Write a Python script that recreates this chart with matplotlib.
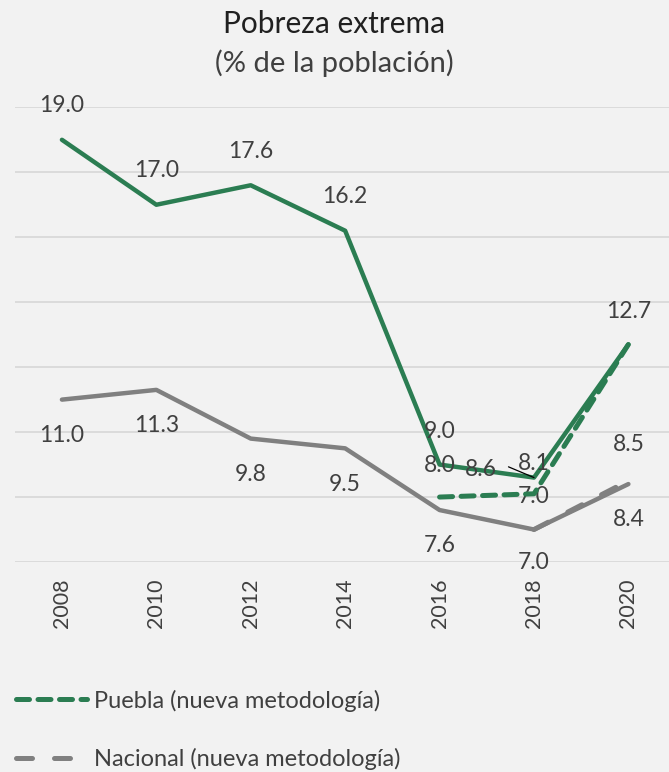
import numpy as np
import matplotlib.pyplot as plt
from matplotlib.lines import Line2D

plt.rcParams['font.family'] = ['Lato', 'DejaVu Sans']

years = ["2008", "2010", "2012", "2014", "2016", "2018", "2020"]
puebla = [19.0, 17.0, 17.6, 16.2, 9.0, 8.6, 12.7]
nacional = [11.0, 11.3, 9.8, 9.5, 7.6, 7.0, 8.4]
puebla_new = [np.nan, np.nan, np.nan, np.nan, 8.0, 8.1, 12.7]
nacional_new = [np.nan, np.nan, np.nan, np.nan, np.nan, 7.0, 8.5]

green = "#2B7D52"
gray = "#808080"
txt = "#404040"
bg = "#F2F2F2"
green_dash = (0, (2.6, 1.7))
gray_dash = (0, (3.2, 4.4))

fig = plt.figure(figsize=(6.69, 7.72), dpi=100, facecolor=bg)
ax = fig.add_axes([0.022, 0.272, 0.978, 0.589], facecolor=bg)
x = np.arange(len(years))

ax.plot(x, puebla, color=green, lw=3.2, solid_capstyle="round", zorder=3)
ax.plot(x, nacional, color=gray, lw=3.2, solid_capstyle="round", zorder=2)
ax.plot(x, puebla_new, color=green, lw=3.6, ls=green_dash, dash_capstyle="round", zorder=4)
ax.plot(x, nacional_new, color=gray, lw=3.6, ls=gray_dash, dash_capstyle="round", zorder=2.5)

ax.set_ylim(6, 20)
ax.set_xlim(-0.5, 6.43)
ax.set_yticks(np.arange(6, 21, 2))
ax.yaxis.grid(True, color="#D9D9D9", lw=1.3)
ax.set_axisbelow(True)
ax.tick_params(axis="y", left=False, labelleft=False)
ax.tick_params(axis="x", length=0, pad=12, labelsize=15.5, labelcolor=txt)
ax.set_xticks(x)
ax.set_xticklabels(years, rotation=90)
for s in ax.spines.values():
    s.set_visible(False)

fs = 16.5

def lab(i, v, text, dx, dy, **kw):
    ax.annotate(text, (x[i], v), xytext=(dx, dy), textcoords="offset points",
                ha="center", va="center", fontsize=fs, color=txt, **kw)

# Puebla
for i in range(0, 4):
    lab(i, puebla[i], f"{puebla[i]:.1f}", 0, 24.5)
lab(4, puebla[4], "9.0", 0, 24)
lab(5, puebla[5], "8.6", -38, 6)
lab(6, puebla[6], "12.7", 0, 24)
# Puebla nueva
lab(4, puebla_new[4], "8.0", 0, 23)
ax.annotate("8.1", (x[5], puebla[5]), xytext=(0, 10), textcoords="offset points",
            ha="center", va="center", fontsize=fs, color=txt,
            arrowprops=dict(arrowstyle="-", color="black", lw=0.9, shrinkA=0, shrinkB=0,
                            relpos=(-0.3, 0.35)))
# Nacional
for i in range(0, 4):
    lab(i, nacional[i], f"{nacional[i]:.1f}", 0, -26)
lab(4, nacional[4], "7.6", 0, -25.5)
lab(5, nacional[5], "7.0", 0, -24)
lab(6, nacional[6], "8.4", 0, -25.5)
# Nacional nueva
lab(5, nacional_new[5], "7.0", 0, 24)
lab(6, nacional_new[6], "8.5", 0, 26)

fig.text(0.5, 0.969, "Pobreza extrema", ha="center", va="center", fontsize=21.5, color="#202020")
fig.text(0.5, 0.918, "(% de la población)", ha="center", va="center", fontsize=21, color=txt)

handles = [Line2D([], [], color=green, lw=3.6, ls=green_dash, dash_capstyle="round"),
           Line2D([], [], color=gray, lw=3.6, ls=gray_dash, dash_capstyle="round")]
fig.legend(handles, ["Puebla (nueva metodología)", "Nacional (nueva metodología)"],
           loc="upper left", bbox_to_anchor=(0.01, 0.119), frameon=False,
           fontsize=17, labelcolor=txt, handlelength=3.0, handletextpad=0.3,
           labelspacing=1.55, borderaxespad=0)

fig.savefig("out.png", dpi=100, facecolor=bg)
